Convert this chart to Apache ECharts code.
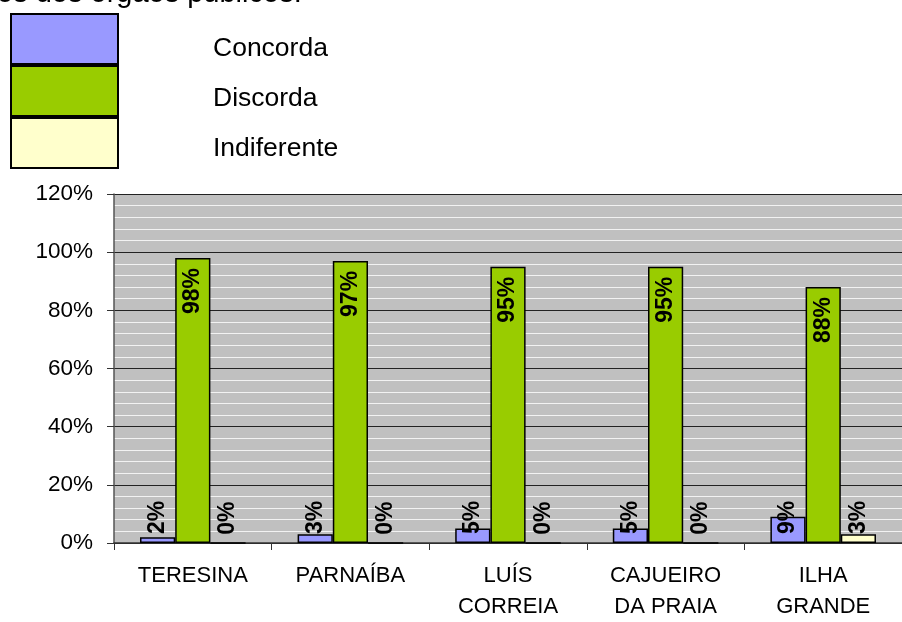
<!DOCTYPE html>
<html>
<head>
<meta charset="utf-8">
<script src="https://cdn.jsdelivr.net/npm/echarts@6/dist/echarts.min.js"></script>
<style>
  html, body { margin: 0; padding: 0; background: #fff; }
  #chart { width: 902px; height: 622px; }
</style>
</head>
<body>
<div id="chart"></div>
<script>
// dados
const categories = ["TERESINA", "PARNAÍBA", "LUÍS\nCORREIA", "CAJUEIRO\nDA PRAIA", "ILHA\nGRANDE"];
const concorda = [2, 3, 5, 5, 9];
const discorda = [98, 97, 95, 95, 88];
const indiferente = [0, 0, 0, 0, 3];
const seriesNames = ["Concorda", "Discorda", "Indiferente"];
const seriesColors = ["#9999FF", "#99CC00", "#FFFFCC"];

const font = "'Liberation Sans', Arial, sans-serif";

// rótulo das barras pequenas (em baixo) e das grandes (dentro, em cima)
const lowLabel = {
  show: true,
  position: "insideBottom",
  rotate: 90,
  align: "left",
  verticalAlign: "middle",
  distance: 9,
  formatter: "{c}%",
  color: "#000",
  fontWeight: "bold",
  fontSize: 23,
  fontFamily: font,
};
const topLabel = Object.assign({}, lowLabel, {
  position: "insideTop",
  align: "right",
  distance: 10,
});

function makeSeries(name, data, color, label) {
  return {
    name: name,
    type: "bar",
    data: data,
    barGap: "0%",
    barCategoryGap: "33%",
    itemStyle: { color: color, borderColor: "#000", borderWidth: 1.5 },
    label: label,
    emphasis: { disabled: true },
  };
}

const chart = echarts.init(document.getElementById("chart"));
chart.setOption({
  animation: false,
  graphic: [
    {
      type: "text",
      left: -3,
      top: -21,
      style: {
        text: "os dos órgãos públicos.",
        font: "29px " + font,
        fill: "#000",
      },
    },
  ],
  legend: [
    {
      // só as caixas de cor
      orient: "vertical",
      left: 10,
      top: 13,
      padding: 0,
      itemWidth: 107,
      itemHeight: 50,
      itemGap: 0,
      icon: "rect",
      selectedMode: false,
      data: seriesNames,
      formatter: function () { return ""; },
    },
    {
      // só os textos, um pouco abaixo do centro das caixas
      orient: "vertical",
      left: 10,
      top: 24,
      padding: 0,
      itemWidth: 107,
      itemHeight: 50,
      itemGap: 0,
      icon: "rect",
      selectedMode: false,
      data: seriesNames,
      itemStyle: { color: "rgba(0,0,0,0)", borderWidth: 0 },
      textStyle: {
        fontSize: 26.5,
        fontFamily: font,
        color: "#000",
        padding: [0, 0, 0, 91],
      },
    },
  ],
  grid: {
    left: 114,
    right: -8,
    top: 194,
    bottom: 75,
    show: true,
    backgroundColor: "#C0C0C0",
    borderWidth: 0,
  },
  xAxis: {
    type: "category",
    data: categories,
    axisLine: { lineStyle: { color: "#333", width: 1.5 } },
    axisTick: { show: true, length: 7, lineStyle: { color: "#333" } },
    axisLabel: {
      color: "#000",
      fontSize: 22,
      fontFamily: font,
      lineHeight: 31,
      margin: 17,
      interval: 0,
    },
  },
  yAxis: {
    type: "value",
    min: 0,
    max: 120,
    interval: 20,
    axisLine: { show: true, lineStyle: { color: "#555", width: 1.5 } },
    axisTick: { show: true, length: 7, lineStyle: { color: "#333" } },
    axisLabel: {
      formatter: "{value}%",
      color: "#000",
      fontSize: 22.5,
      fontFamily: font,
      margin: 21,
    },
    splitLine: { show: true, lineStyle: { color: "#222", width: 1 } },
    minorTick: { show: false, splitNumber: 5 },
    minorSplitLine: { show: true, lineStyle: { color: "#F2F2F2", width: 1 } },
  },
  series: [
    makeSeries(seriesNames[0], concorda, seriesColors[0], lowLabel),
    makeSeries(seriesNames[1], discorda, seriesColors[1], topLabel),
    makeSeries(seriesNames[2], indiferente, seriesColors[2], lowLabel),
  ],
});
</script>
</body>
</html>
